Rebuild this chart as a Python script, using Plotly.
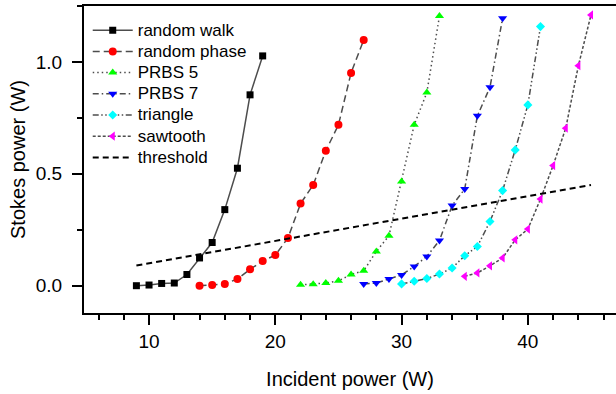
import plotly.graph_objects as go

# ---- data ----
rw_x = list(range(9, 20))
rw_y = [0.0, 0.003, 0.01, 0.012, 0.05, 0.124, 0.193, 0.34, 0.525, 0.853, 1.027]

rp_x = list(range(14, 28))
rp_y = [0.0, 0.003, 0.008, 0.03, 0.073, 0.11, 0.137, 0.213, 0.367, 0.45, 0.603, 0.719, 0.951, 1.098]

p5_x = list(range(22, 34))
p5_y = [0.004, 0.007, 0.012, 0.022, 0.05, 0.067, 0.153, 0.223, 0.466, 0.719, 0.863, 1.205]

p7_x = list(range(27, 39))
p7_y = [0.008, 0.012, 0.03, 0.048, 0.086, 0.131, 0.202, 0.358, 0.432, 0.759, 0.887, 1.195]

tri_x = list(range(30, 42))
tri_y = [0.008, 0.02, 0.032, 0.052, 0.079, 0.134, 0.175, 0.287, 0.425, 0.607, 0.808, 1.158]

saw_x = list(range(35, 46))
saw_y = [0.042, 0.057, 0.089, 0.124, 0.205, 0.253, 0.387, 0.537, 0.704, 0.983, 1.21]

thr_x = [9, 45]
thr_y = [0.09, 0.45]

names = ["random walk", "random phase", "PRBS 5", "PRBS 7", "triangle", "sawtooth", "threshold"]

FONT = "Arial, 'Liberation Sans', sans-serif"
LINE_C = "#4d4d4d"


def legend_name(n):
    return '<span style="font-size:17px">' + n + '</span>'


series = [
    (rw_x, rw_y, names[0], "square", 7, "black", "solid"),
    (rp_x, rp_y, names[1], "circle", 8, "#ff0000", "7px,4px"),
    (p5_x, p5_y, names[2], "triangle-up", 8, "#00ff00", "1.5px,3px"),
    (p7_x, p7_y, names[3], "triangle-down", 8, "#0000ff", "6px,3px,1.5px,3px"),
    (tri_x, tri_y, names[4], "diamond", 7, "#00ffff", "6px,2.5px,1.5px,2.5px,1.5px,2.5px"),
    (saw_x, saw_y, names[5], "triangle-left", 8, "#ff00ff", "3px,2px"),
]

fig = go.Figure()
for x, y, n, sym, sz, col, dash in series:
    fig.add_trace(go.Scatter(
        x=x, y=y, name=legend_name(n), mode="lines+markers",
        line=dict(color=LINE_C, width=1.5, dash=dash),
        marker=dict(symbol=sym, size=sz, color=col, line=dict(width=0)),
    ))

fig.add_trace(go.Scatter(
    x=thr_x, y=thr_y, name=legend_name(names[6]), mode="lines",
    line=dict(color="black", width=2, dash="6px,4px"),
))

xr = [4.85, 46.98]
yr = [-0.122, 1.25]

fig.update_layout(
    width=616, height=394,
    margin=dict(l=84, r=0, t=6, b=81),
    paper_bgcolor="white", plot_bgcolor="white",
    font=dict(family=FONT, color="black", size=19),
    showlegend=True,
    legend=dict(
        x=0.007, y=0.972, xanchor="left", yanchor="top",
        font=dict(size=14, family=FONT, color="black"),
        bgcolor="rgba(0,0,0,0)", borderwidth=0,
        itemwidth=40, tracegroupgap=0,
    ),
    xaxis=dict(
        range=xr, showgrid=False, zeroline=False,
        showline=True, linecolor="black", linewidth=2, mirror=True,
        ticks="outside", ticklen=10, tickwidth=2, tickcolor="black",
        dtick=10, tick0=0,
        minor=dict(ticks="outside", ticklen=5, tickwidth=2, tickcolor="black", dtick=2),
        tickfont=dict(size=19, family=FONT),
        title=dict(text="Incident power (W)", font=dict(size=20, family=FONT), standoff=21),
    ),
    yaxis=dict(
        range=yr, showgrid=False, zeroline=False,
        showline=True, linecolor="black", linewidth=2, mirror=False,
        ticks="outside", ticklen=10, tickwidth=2, tickcolor="black",
        dtick=0.5, tick0=0, tickformat=".1f",
        minor=dict(ticks="outside", ticklen=5, tickwidth=2, tickcolor="black", dtick=0.25),
        tickfont=dict(size=19, family=FONT),
        title=dict(text="Stokes power (W)", font=dict(size=20, family=FONT), standoff=5),
        ticklabelstandoff=6,
    ),
    xaxis2=dict(
        range=xr, overlaying="x", side="top", anchor="y",
        showgrid=False, zeroline=False, showline=False,
        ticks="inside", ticklen=10, tickwidth=2, tickcolor="black",
        dtick=10, tick0=0, showticklabels=False,
        minor=dict(ticks="inside", ticklen=5, tickwidth=2, tickcolor="black", dtick=2),
    ),
    yaxis2=dict(
        range=yr, overlaying="y", side="right", anchor="x",
        showgrid=False, zeroline=False, showline=False,
        ticks="inside", ticklen=5, tickwidth=2, tickcolor="black",
        dtick=0.5, tick0=0, showticklabels=False,
    ),
)

fig.write_html("out.html")
